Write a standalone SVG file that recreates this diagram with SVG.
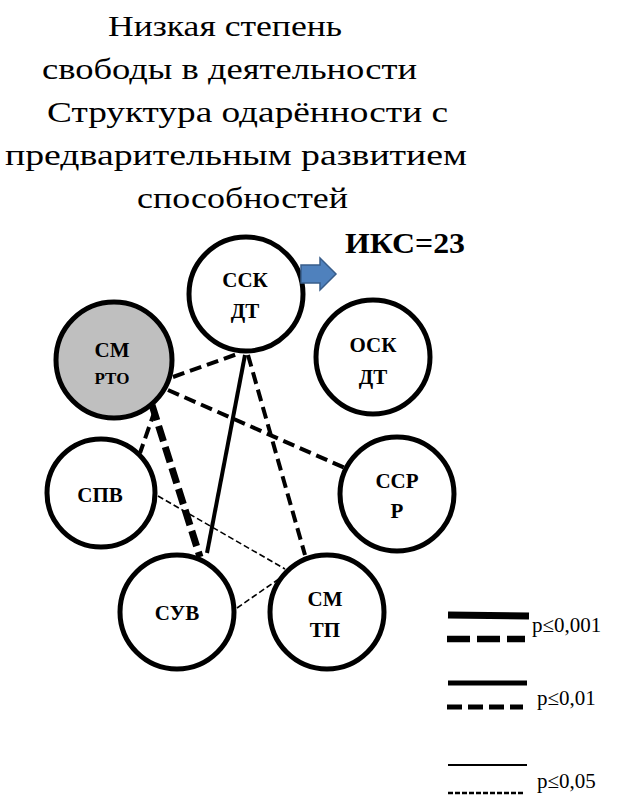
<svg xmlns="http://www.w3.org/2000/svg" width="619" height="796" viewBox="0 0 619 796">
<style>
text{font-family:'Liberation Serif','Tinos','Noto Serif','Nimbus Roman','Times New Roman','DejaVu Serif',serif;fill:#000}
.title{font-size:30px}
.node circle{fill:#fff;stroke:#000;stroke-width:5}
.node text{font-weight:bold;font-size:21px;text-anchor:middle}
.node text.s{font-size:17px}
.lg{font-size:21px}
.c{stroke:#000;fill:none}
</style>
<rect width="619" height="796" fill="#fff"/>
<g id="title">
<text class="title" x="108" y="36" textLength="234" lengthAdjust="spacingAndGlyphs">Низкая степень</text>
<text class="title" x="42" y="79" textLength="375" lengthAdjust="spacingAndGlyphs">свободы в деятельности</text>
<text class="title" x="47" y="122" textLength="401" lengthAdjust="spacingAndGlyphs">Структура одарённости с</text>
<text class="title" x="5" y="165" textLength="462" lengthAdjust="spacingAndGlyphs">предварительным развитием</text>
<text class="title" x="137" y="208" textLength="211" lengthAdjust="spacingAndGlyphs">способностей</text>
</g>
<g id="connectors">
<line class="c" x1="173" y1="377" x2="240" y2="353" stroke-width="4" stroke-dasharray="12,6"/>
<line class="c" x1="168" y1="390" x2="345" y2="468" stroke-width="4" stroke-dasharray="12,6"/>
<line class="c" x1="245" y1="355" x2="207" y2="553" stroke-width="4"/>
<line class="c" x1="248" y1="355" x2="305" y2="555" stroke-width="4" stroke-dasharray="12,6"/>
<line class="c" x1="155" y1="410" x2="140" y2="453" stroke-width="4" stroke-dasharray="12,6"/>
<line class="c" x1="152" y1="405" x2="200" y2="557" stroke-width="7" stroke-dasharray="16,6"/>
<line class="c" x1="158" y1="496" x2="285" y2="569" stroke-width="1.6" stroke-dasharray="6,3"/>
<line class="c" x1="237" y1="608" x2="286" y2="574" stroke-width="1.6" stroke-dasharray="6,3"/>
</g>
<g id="node-ssk" class="node">
<circle cx="246" cy="294" r="57"/>
<text x="245" y="287">ССК</text>
<text x="245" y="318">ДТ</text>
</g>
<g id="node-smrto" class="node">
<circle cx="114" cy="360" r="58" style="fill:#bfbfbf"/>
<text x="112" y="357">СМ</text>
<text class="s" x="112" y="384">РТО</text>
</g>
<g id="node-osk" class="node">
<circle cx="373" cy="357" r="57"/>
<text x="373" y="352">ОСК</text>
<text x="373" y="384">ДТ</text>
</g>
<g id="node-spv" class="node">
<circle cx="101" cy="493" r="54"/>
<text x="100" y="502">СПВ</text>
</g>
<g id="node-ssr" class="node">
<circle cx="397" cy="494" r="57"/>
<text x="397" y="488">ССР</text>
<text x="397" y="518">Р</text>
</g>
<g id="node-suv" class="node">
<circle cx="177" cy="612" r="57"/>
<text x="177" y="620">СУВ</text>
</g>
<g id="node-smtp" class="node">
<circle cx="327" cy="612" r="57"/>
<text x="325" y="606">СМ</text>
<text x="325" y="637">ТП</text>
</g>
<g id="iks">
<path d="M301,265 H320 V258 L336,274 L320,290 V283 H301 Z" fill="#4f81bd" stroke="#385d8a" stroke-width="1.5"/>
<text x="345" y="253" font-weight="bold" font-size="29" textLength="120" lengthAdjust="spacingAndGlyphs">ИКС=23</text>
</g>
<g id="legend">
<line x1="448" y1="615" x2="529" y2="616" stroke="#000" stroke-width="7"/>
<line x1="447" y1="639" x2="525" y2="639" stroke="#000" stroke-width="6.5" stroke-dasharray="23,7"/>
<text class="lg" x="532" y="632">p≤0,001</text>
<line x1="448" y1="683" x2="527" y2="683" stroke="#000" stroke-width="5"/>
<line x1="447" y1="707" x2="523" y2="707" stroke="#000" stroke-width="5" stroke-dasharray="15,6"/>
<text class="lg" x="537" y="705">p≤0,01</text>
<line x1="448" y1="765" x2="527" y2="765" stroke="#000" stroke-width="2"/>
<line x1="448" y1="793" x2="525" y2="793" stroke="#000" stroke-width="2.5" stroke-dasharray="5,2"/>
<text class="lg" x="537" y="788">p≤0,05</text>
</g>
</svg>
